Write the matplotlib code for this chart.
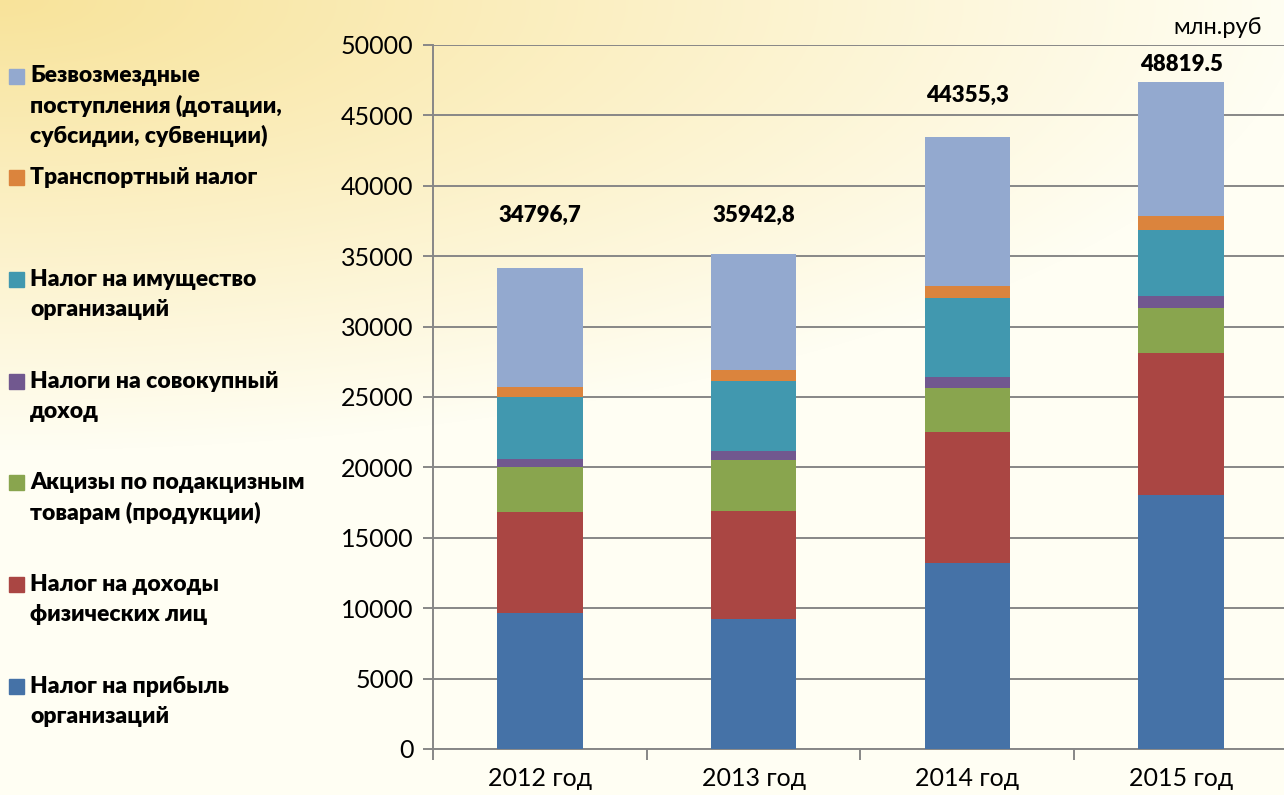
import numpy as np
import matplotlib
matplotlib.use('Agg')
import matplotlib.pyplot as plt
from matplotlib.patches import Rectangle

plt.rcParams['font.family'] = ['Lato', 'DejaVu Sans']

# Данные (млн.руб), снизу вверх
years = ['2012 год', '2013 год', '2014 год', '2015 год']
pribyl = [9640, 9220, 13180, 18030]        # Налог на прибыль организаций
ndfl = [7200, 7690, 9340, 10060]           # Налог на доходы физических лиц
akcizy = [3170, 3650, 3150, 3220]          # Акцизы
sovokup = [620, 640, 760, 870]             # Налоги на совокупный доход
imushestvo = [4360, 4970, 5590, 4690]      # Налог на имущество организаций
transport = [710, 780, 870, 950]           # Транспортный налог
bezvozmezd = [8470, 8240, 10560, 9560]     # Безвозмездные поступления
totals = ['34796,7', '35942,8', '44355,3', '48819.5']

labels = ['Налог на прибыль\nорганизаций',
          'Налог на доходы\nфизических лиц',
          'Акцизы по подакцизным\nтоварам (продукции)',
          'Налоги на совокупный\nдоход',
          'Налог на имущество\nорганизаций',
          'Транспортный налог',
          'Безвозмездные\nпоступления (дотации,\nсубсидии, субвенции)']
colors = ['#4572A7', '#AA4643', '#89A54E', '#71588F', '#4198AF', '#DB843D', '#93A9CF']
series = [pribyl, ndfl, akcizy, sovokup, imushestvo, transport, bezvozmezd]

# где стоят подписи итогов (по оси y)
total_y = [37900, 37900, 46400, 48650]

W, H = 1284, 795
fig = plt.figure(figsize=(W / 100, H / 100), dpi=100)

# фон - градиент из левого верхнего угла
bg = fig.add_axes([0, 0, 1, 1])
xx, yy = np.meshgrid(np.arange(W), np.arange(H))
t = np.clip(np.sqrt((xx / 1300) ** 2 + (yy / 450) ** 2), 0, 1)
c0 = np.array([248, 227, 154]) / 255
c1 = np.array([255, 254, 243]) / 255
bg.imshow(c0 + (c1 - c0) * t[..., None], aspect='auto')
bg.set_axis_off()

ax = fig.add_axes([433 / W, 46 / H, 855 / W, 704 / H])
ax.patch.set_visible(False)

x = np.arange(len(years))
bottom = np.zeros(len(years))
for vals, color in zip(series, colors):
    ax.bar(x, vals, 0.4, bottom=bottom, color=color, zorder=3)
    bottom += np.array(vals)

for i in range(len(years)):
    ax.text(x[i], total_y[i], totals[i], ha='center', va='center',
            fontsize=16, fontweight='heavy')

ax.set_xlim(-0.5, 3.5)
ax.set_ylim(0, 50000)
ax.set_yticks(range(0, 50001, 5000))
ax.yaxis.grid(True, color='#878787', lw=1.4, zorder=0)
ax.set_axisbelow(True)
for s in ['top', 'right']:
    ax.spines[s].set_visible(False)
for s in ['left', 'bottom']:
    ax.spines[s].set_color('#878787')
    ax.spines[s].set_linewidth(1.4)
ax.tick_params(axis='y', length=7, width=1.4, color='#878787', labelsize=18, pad=7)
ax.set_xticks(x, years)
ax.tick_params(axis='x', length=0, labelsize=18, pad=13)
ax.set_xticks(np.arange(-0.5, 4, 1), minor=True)
ax.tick_params(axis='x', which='minor', length=8, width=1.4, color='#878787')

fig.text(1262 / W, 1 - 28 / H, 'млн.руб', ha='right', va='center', fontsize=17)

# легенда слева, сверху вниз
for i, (label, color) in enumerate(zip(labels[::-1], colors[::-1])):
    yc = 76 + i * 101.7
    fig.patches.append(Rectangle((9 / W, 1 - (yc + 7.5) / H), 15 / W, 15 / H,
                                 transform=fig.transFigure, color=color))
    for j, line in enumerate(label.split('\n')):
        fig.text(30 / W, 1 - (yc + j * 30) / H, line, va='center',
                 fontsize=16.5, fontweight='heavy')

fig.savefig('out.png', dpi=100)
